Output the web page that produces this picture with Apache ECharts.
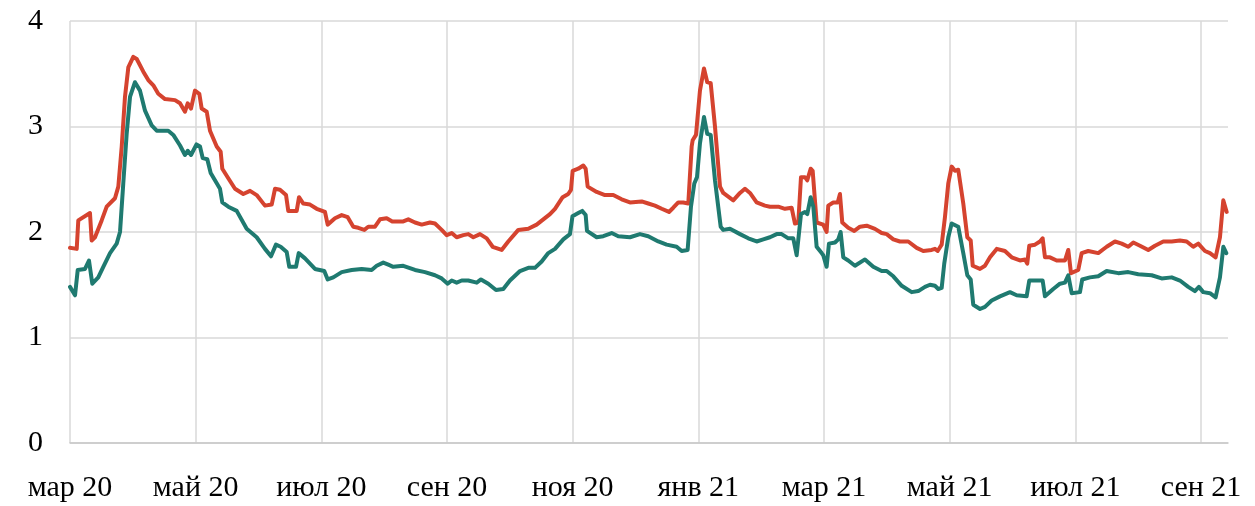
<!DOCTYPE html>
<html>
<head>
<meta charset="utf-8">
<script src="https://cdn.jsdelivr.net/npm/echarts@6/dist/echarts.min.js"></script>
<style>
html,body{margin:0;padding:0;background:#fff;}
#chart{width:1255px;height:506px;}
</style>
</head>
<body>
<div id="chart"></div>
<script>
// x values: months since 1 Mar 2020 (0 = 1 Mar 2020, 2 = 1 May 2020, ...)
const monthLabels = ['мар 20','май 20','июл 20','сен 20','ноя 20','янв 21','мар 21','май 21','июл 21','сен 21'];
const yTicks = [0, 1, 2, 3, 4];

const redT = [0.000,0.107,0.132,0.318,0.345,0.398,0.504,0.584,0.716,0.769,0.823,0.875,0.928,1.007,1.062,1.167,1.246,1.326,1.405,1.512,1.671,1.751,1.830,1.873,1.926,1.989,2.058,2.096,2.176,2.228,2.335,2.398,2.424,2.519,2.626,2.758,2.865,2.971,3.103,3.210,3.263,3.342,3.438,3.474,3.608,3.645,3.713,3.820,3.926,4.058,4.101,4.217,4.324,4.420,4.509,4.588,4.684,4.747,4.854,4.934,5.040,5.129,5.304,5.384,5.491,5.597,5.729,5.809,5.915,5.995,6.075,6.154,6.259,6.339,6.419,6.525,6.632,6.727,6.870,6.975,7.135,7.294,7.427,7.639,7.719,7.841,7.930,7.973,8.000,8.089,8.169,8.207,8.239,8.382,8.514,8.646,8.780,8.912,9.098,9.203,9.310,9.417,9.533,9.601,9.681,9.760,9.840,9.894,9.910,9.963,10.026,10.090,10.142,10.197,10.265,10.345,10.397,10.556,10.663,10.742,10.822,10.928,11.060,11.140,11.272,11.379,11.485,11.538,11.591,11.634,11.697,11.734,11.788,11.820,11.883,11.988,12.042,12.068,12.147,12.218,12.254,12.291,12.386,12.482,12.573,12.679,12.811,12.918,12.998,13.103,13.209,13.341,13.475,13.580,13.714,13.766,13.809,13.873,13.925,13.978,14.032,14.085,14.137,14.217,14.281,14.335,14.367,14.483,14.562,14.642,14.749,14.880,14.987,15.119,15.199,15.235,15.267,15.358,15.437,15.480,15.517,15.596,15.703,15.835,15.888,15.931,16.047,16.101,16.206,16.365,16.499,16.631,16.738,16.843,16.923,17.029,17.161,17.268,17.400,17.534,17.665,17.772,17.877,17.957,18.063,18.143,18.233,18.302,18.355,18.409];
const redV = [1.85,1.84,2.11,2.18,1.92,1.95,2.11,2.24,2.32,2.43,2.81,3.28,3.56,3.66,3.64,3.52,3.44,3.39,3.31,3.26,3.25,3.22,3.14,3.22,3.17,3.34,3.31,3.17,3.14,2.96,2.81,2.76,2.60,2.51,2.41,2.36,2.39,2.35,2.25,2.26,2.41,2.40,2.35,2.20,2.20,2.33,2.27,2.26,2.22,2.19,2.07,2.13,2.16,2.14,2.05,2.04,2.02,2.05,2.05,2.12,2.13,2.10,2.10,2.12,2.09,2.07,2.09,2.08,2.02,1.97,1.99,1.95,1.97,1.98,1.95,1.98,1.94,1.86,1.83,1.91,2.02,2.03,2.07,2.17,2.22,2.33,2.36,2.40,2.58,2.60,2.63,2.60,2.43,2.38,2.35,2.35,2.31,2.28,2.29,2.27,2.25,2.22,2.19,2.23,2.28,2.28,2.27,2.81,2.87,2.92,3.34,3.55,3.42,3.41,3.00,2.43,2.37,2.30,2.37,2.41,2.37,2.28,2.25,2.24,2.24,2.22,2.23,2.08,2.09,2.52,2.52,2.49,2.60,2.58,2.09,2.07,2.00,2.25,2.28,2.28,2.36,2.09,2.04,2.01,2.05,2.06,2.03,1.99,1.98,1.93,1.91,1.91,1.85,1.82,1.83,1.84,1.82,1.88,2.14,2.46,2.62,2.58,2.59,2.27,1.95,1.92,1.68,1.65,1.68,1.76,1.84,1.82,1.76,1.73,1.74,1.70,1.87,1.88,1.91,1.94,1.76,1.76,1.73,1.73,1.83,1.61,1.64,1.80,1.82,1.80,1.86,1.91,1.89,1.86,1.90,1.87,1.83,1.87,1.91,1.91,1.92,1.91,1.86,1.89,1.82,1.80,1.76,1.95,2.30,2.19];

const greenT = [0.000,0.080,0.123,0.239,0.302,0.355,0.450,0.530,0.637,0.743,0.796,0.848,0.902,0.955,1.034,1.114,1.194,1.300,1.380,1.564,1.644,1.751,1.830,1.873,1.926,2.013,2.069,2.112,2.185,2.239,2.387,2.424,2.519,2.653,2.812,2.971,3.103,3.199,3.278,3.353,3.449,3.490,3.597,3.640,3.740,3.899,4.047,4.101,4.190,4.324,4.483,4.642,4.801,4.881,4.986,5.066,5.145,5.304,5.491,5.650,5.809,5.915,6.011,6.075,6.154,6.234,6.339,6.473,6.541,6.657,6.780,6.896,7.002,7.162,7.294,7.400,7.507,7.612,7.719,7.851,7.957,7.997,8.089,8.153,8.207,8.228,8.382,8.487,8.621,8.726,8.912,9.071,9.203,9.363,9.496,9.655,9.735,9.830,9.883,9.936,9.979,10.026,10.090,10.142,10.197,10.265,10.356,10.397,10.504,10.663,10.795,10.928,11.034,11.140,11.247,11.326,11.432,11.511,11.565,11.634,11.697,11.734,11.788,11.830,11.883,11.963,11.988,12.042,12.079,12.175,12.227,12.265,12.307,12.386,12.493,12.652,12.784,12.918,12.998,13.103,13.237,13.396,13.501,13.607,13.687,13.766,13.819,13.873,13.914,13.978,14.032,14.137,14.217,14.281,14.335,14.376,14.483,14.562,14.669,14.801,14.960,15.066,15.225,15.267,15.410,15.480,15.517,15.649,15.756,15.835,15.888,15.942,16.074,16.110,16.233,16.365,16.499,16.683,16.843,17.002,17.215,17.374,17.534,17.665,17.797,17.903,17.967,18.036,18.143,18.233,18.302,18.356,18.403];
const greenV = [1.48,1.40,1.64,1.65,1.73,1.51,1.57,1.67,1.80,1.89,2.00,2.46,2.93,3.28,3.42,3.34,3.15,3.01,2.96,2.96,2.92,2.82,2.73,2.77,2.73,2.83,2.81,2.70,2.69,2.56,2.41,2.28,2.24,2.20,2.03,1.95,1.84,1.77,1.88,1.86,1.81,1.67,1.67,1.80,1.75,1.65,1.63,1.55,1.57,1.62,1.64,1.65,1.64,1.68,1.71,1.69,1.67,1.68,1.64,1.62,1.59,1.56,1.51,1.54,1.52,1.54,1.54,1.52,1.55,1.51,1.45,1.46,1.54,1.63,1.66,1.66,1.72,1.80,1.84,1.93,1.98,2.15,2.18,2.20,2.16,2.01,1.95,1.96,1.99,1.96,1.95,1.98,1.96,1.91,1.88,1.86,1.82,1.83,2.24,2.46,2.52,2.84,3.09,2.93,2.92,2.49,2.05,2.02,2.03,1.98,1.94,1.91,1.93,1.95,1.98,1.98,1.94,1.94,1.78,2.17,2.19,2.17,2.33,2.24,1.86,1.80,1.78,1.67,1.89,1.90,1.93,2.00,1.76,1.73,1.68,1.74,1.67,1.63,1.63,1.58,1.49,1.43,1.44,1.48,1.50,1.49,1.46,1.47,1.70,1.95,2.08,2.05,1.80,1.59,1.55,1.31,1.27,1.29,1.35,1.39,1.43,1.40,1.39,1.54,1.54,1.54,1.39,1.46,1.51,1.52,1.59,1.42,1.43,1.55,1.57,1.58,1.63,1.61,1.62,1.60,1.59,1.56,1.57,1.54,1.48,1.44,1.48,1.43,1.42,1.38,1.57,1.86,1.80];

const chart = echarts.init(document.getElementById('chart'), null, {renderer: 'canvas'});
const FONT = "'Liberation Serif', 'Times New Roman', serif";
chart.setOption({
  animation: false,
  backgroundColor: '#ffffff',
  grid: {left: 70, right: 27, top: 21, bottom: 63, containLabel: false},
  xAxis: {
    type: 'value',
    min: 0,
    max: 18.43,
    interval: 2,
    axisLine: {show: true, lineStyle: {color: '#c8c8c8', width: 1.5}},
    axisTick: {show: false},
    splitLine: {show: true, showMaxLine: false, lineStyle: {color: '#d9d9d9', width: 1.5}},
    axisLabel: {
      color: '#000', fontFamily: FONT, fontSize: 30, margin: 30,
      showMaxLabel: false,
      formatter: function (v) {
        const i = Math.round(v / 2);
        return (Math.abs(v - i * 2) < 1e-6 && monthLabels[i]) ? monthLabels[i] : '';
      }
    }
  },
  yAxis: {
    type: 'value',
    min: yTicks[0],
    max: yTicks[yTicks.length - 1],
    interval: 1,
    axisLine: {show: false},
    axisTick: {show: false},
    splitLine: {show: true, lineStyle: {color: '#d9d9d9', width: 1.5}},
    axisLabel: {color: '#000', fontFamily: FONT, fontSize: 30, margin: 27}
  },
  series: [
    {
      type: 'line', name: 'red',
      data: redT.map((t, i) => [t, redV[i]]),
      showSymbol: false, symbol: 'none',
      lineStyle: {color: '#d5432f', width: 4, join: 'round', cap: 'round'},
      itemStyle: {color: '#d5432f'}
    },
    {
      type: 'line', name: 'green',
      data: greenT.map((t, i) => [t, greenV[i]]),
      showSymbol: false, symbol: 'none',
      lineStyle: {color: '#1f7a70', width: 4, join: 'round', cap: 'round'},
      itemStyle: {color: '#1f7a70'}
    }
  ]
});
</script>
</body>
</html>
